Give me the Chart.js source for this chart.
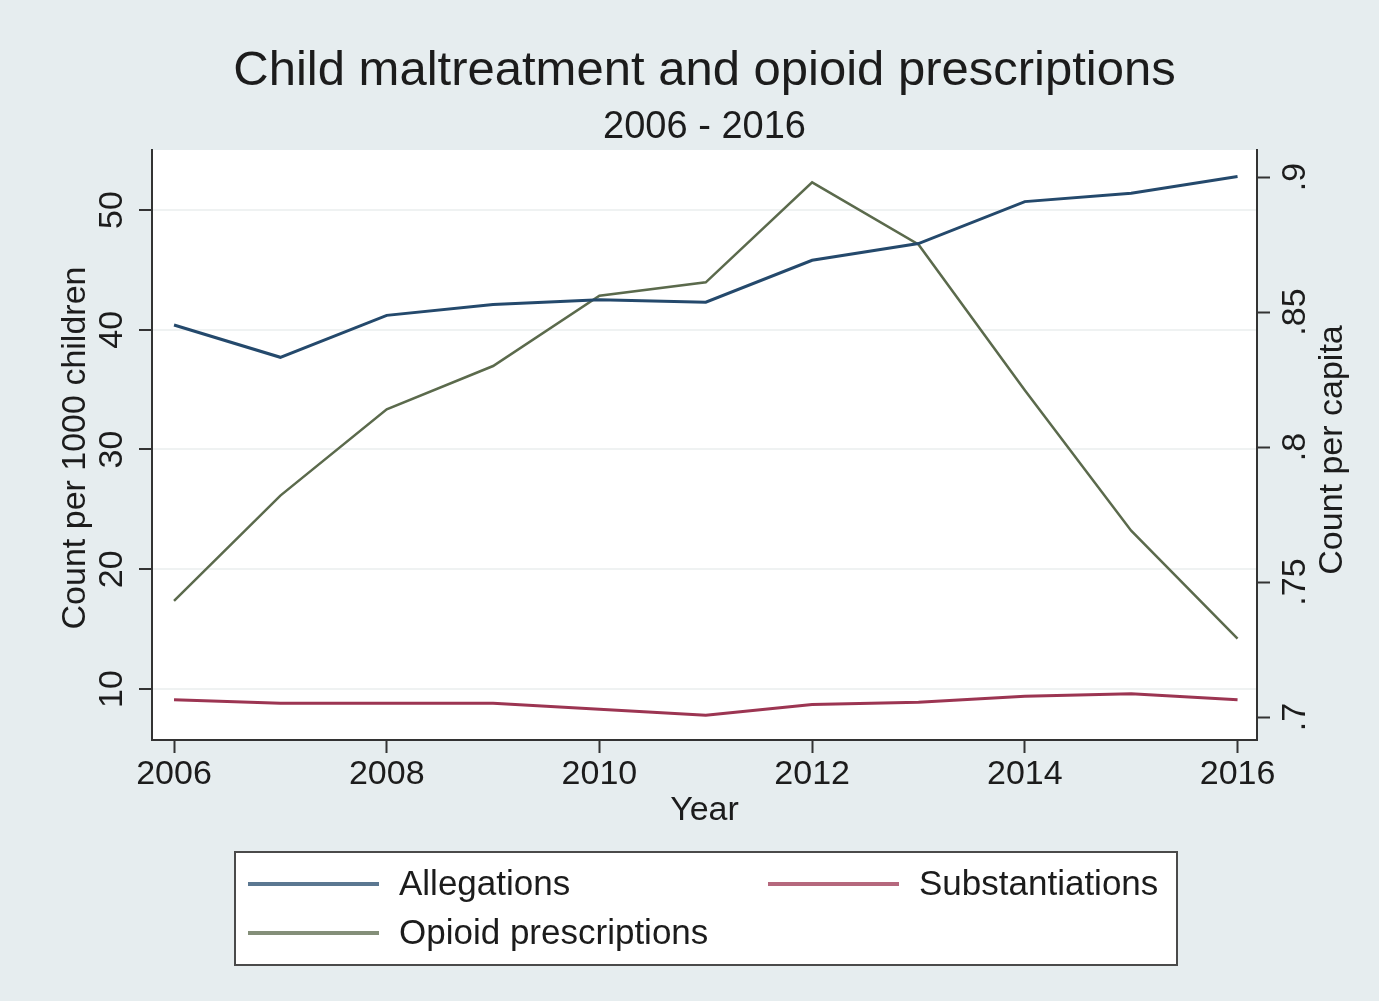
<!DOCTYPE html>
<html>
<head>
<meta charset="utf-8">
<title>Child maltreatment and opioid prescriptions</title>
<script src="https://cdn.jsdelivr.net/npm/chart.js@4.4.1/dist/chart.umd.min.js"></script>
<style>
  html, body { margin: 0; padding: 0; background: #e6edef; }
  #chart { display: block; }
</style>
</head>
<body>
<canvas id="chart" width="1379" height="1001"></canvas>
<script>
// Datos por año
const years = [2006, 2007, 2008, 2009, 2010, 2011, 2012, 2013, 2014, 2015, 2016];
const allegations = [40.4, 37.7, 41.2, 42.1, 42.5, 42.3, 45.8, 47.2, 50.7, 51.4, 52.8];
const substantiations = [9.1, 8.8, 8.8, 8.8, 8.3, 7.8, 8.7, 8.9, 9.4, 9.6, 9.1];
const opioid = [0.743, 0.782, 0.814, 0.830, 0.856, 0.861, 0.898, 0.875, 0.821, 0.769, 0.729];

// Marcas de los ejes
const xTicks = [2006, 2008, 2010, 2012, 2014, 2016];
const leftTicks = [10, 20, 30, 40, 50];
const rightTicks = [0.7, 0.75, 0.8, 0.85, 0.9];

// Textos
const titleText = "Child maltreatment and opioid prescriptions";
const subtitleText = "2006 - 2016";
const xTitle = "Year";
const leftTitle = "Count per 1000 children";
const rightTitle = "Count per capita";

const FONT = '"Liberation Sans", Arial, sans-serif';
Chart.defaults.font.family = FONT;

// Pares {x, y} para la escala lineal de años
function toPoints(values) {
    return years.map((year, i) => ({ x: year, y: values[i] }));
}

// Etiquetas del eje derecho sin el cero inicial (.7, .75 ...)
function fmtRight(v) {
    return v.toFixed(2).replace(/0$/, "").replace(/^0/, "");
}

// Texto girado -90 grados (se lee de abajo hacia arriba)
function rotText(ctx, text, x, y) {
    ctx.save();
    ctx.translate(x, y);
    ctx.rotate(-Math.PI / 2);
    ctx.fillText(text, 0, 0);
    ctx.restore();
}

// Posiciones de las entradas de la leyenda
const legendBox = { left: 235, top: 852, right: 1177, bottom: 965 };
const legendSlots = [
    { x: 248, y: 884 },
    { x: 768, y: 884 },
    { x: 248, y: 933 }
];

// Fondo blanco del área de trazado, títulos, textos de ejes y leyenda
const stataLayout = {
    id: "stataLayout",
    beforeDraw(chart) {
        const { ctx, chartArea: a } = chart;
        ctx.save();
        ctx.fillStyle = "#ffffff";
        ctx.fillRect(a.left, a.top, a.right - a.left, a.bottom - a.top);
        ctx.restore();
    },
    afterDraw(chart) {
        const { ctx, chartArea: a } = chart;
        const yl = chart.scales.yLeft;
        const yr = chart.scales.yRight;
        const midX = (a.left + a.right) / 2;
        ctx.save();
        ctx.fillStyle = "#1c1c1c";
        ctx.textAlign = "center";
        ctx.textBaseline = "alphabetic";

        // Título y subtítulo centrados sobre el área de trazado
        ctx.font = "49px " + FONT;
        ctx.fillText(titleText, midX, 85);
        ctx.font = "38px " + FONT;
        ctx.fillText(subtitleText, midX, 138);

        ctx.font = "34px " + FONT;
        yl.ticks.forEach(t => rotText(ctx, String(t.value), 122, yl.getPixelForValue(t.value)));
        yr.ticks.forEach(t => rotText(ctx, fmtRight(t.value), 1305, yr.getPixelForValue(t.value)));
        rotText(ctx, leftTitle, 85, 448);
        rotText(ctx, rightTitle, 1342, 450);
        ctx.fillText(xTitle, midX, 820);

        // Leyenda
        ctx.fillStyle = "#ffffff";
        ctx.fillRect(legendBox.left, legendBox.top, legendBox.right - legendBox.left, legendBox.bottom - legendBox.top);
        ctx.strokeStyle = "#4a4a4a";
        ctx.lineWidth = 2;
        ctx.strokeRect(legendBox.left, legendBox.top, legendBox.right - legendBox.left, legendBox.bottom - legendBox.top);

        ctx.font = "35px " + FONT;
        ctx.textAlign = "left";
        ctx.textBaseline = "middle";
        chart.data.datasets.forEach((ds, i) => {
            const slot = legendSlots[i];
            ctx.strokeStyle = ds.borderColor;
            ctx.globalAlpha = 0.75;
            ctx.lineWidth = 4;
            ctx.beginPath();
            ctx.moveTo(slot.x, slot.y);
            ctx.lineTo(slot.x + 131, slot.y);
            ctx.stroke();
            ctx.globalAlpha = 1;
            ctx.fillStyle = "#1c1c1c";
            ctx.fillText(ds.label, slot.x + 151, slot.y + 1);
        });
        ctx.restore();
    }
};

const ctx = document.getElementById("chart").getContext("2d");

const chart = new Chart(ctx, {
    type: "line",
    data: {
        datasets: [
            {
                label: "Allegations",
                data: toPoints(allegations),
                yAxisID: "yLeft",
                borderColor: "#24496c",
                borderWidth: 3
            },
            {
                label: "Substantiations",
                data: toPoints(substantiations),
                yAxisID: "yLeft",
                borderColor: "#9c3552",
                borderWidth: 3
            },
            {
                label: "Opioid prescriptions",
                data: toPoints(opioid),
                yAxisID: "yRight",
                borderColor: "#5b6a4c",
                borderWidth: 2.5
            }
        ]
    },
    options: {
        responsive: false,
        devicePixelRatio: 1,
        animation: false,
        elements: {
            point: { radius: 0 },
            line: { tension: 0 }
        },
        layout: { padding: { top: 150, left: 0, right: 0, bottom: 0 } },
        plugins: {
            legend: { display: false },
            tooltip: { enabled: false },
            title: { display: false },
            subtitle: { display: false }
        },
        scales: {
            x: {
                type: "linear",
                position: "bottom",
                min: 2005.793,
                max: 2016.183,
                afterBuildTicks: scale => { scale.ticks = xTicks.map(v => ({ value: v })); },
                afterFit: scale => { scale.height = 261; },
                ticks: {
                    color: "#1c1c1c",
                    font: { size: 34 },
                    padding: 1,
                    maxRotation: 0,
                    autoSkip: false,
                    callback: v => String(v)
                },
                grid: {
                    drawOnChartArea: false,
                    tickLength: 13,
                    tickWidth: 2,
                    tickColor: "#333333"
                },
                border: { color: "#333333", width: 2 }
            },
            yLeft: {
                type: "linear",
                position: "left",
                min: 5.741,
                max: 55.01,
                afterBuildTicks: scale => { scale.ticks = leftTicks.map(v => ({ value: v })); },
                afterFit: scale => { scale.width = 152; },
                ticks: { display: false },
                grid: {
                    color: "#eff2f2",
                    lineWidth: 2,
                    tickLength: 13,
                    tickWidth: 2,
                    tickColor: "#333333"
                },
                border: { color: "#333333", width: 2 }
            },
            yRight: {
                type: "linear",
                position: "right",
                min: 0.6915,
                max: 0.910,
                afterBuildTicks: scale => { scale.ticks = rightTicks.map(v => ({ value: v })); },
                afterFit: scale => { scale.width = 122; },
                ticks: { display: false },
                grid: {
                    drawOnChartArea: false,
                    tickLength: 13,
                    tickWidth: 2,
                    tickColor: "#333333"
                },
                border: { color: "#333333", width: 2 }
            }
        }
    },
    plugins: [stataLayout]
});
</script>
</body>
</html>
